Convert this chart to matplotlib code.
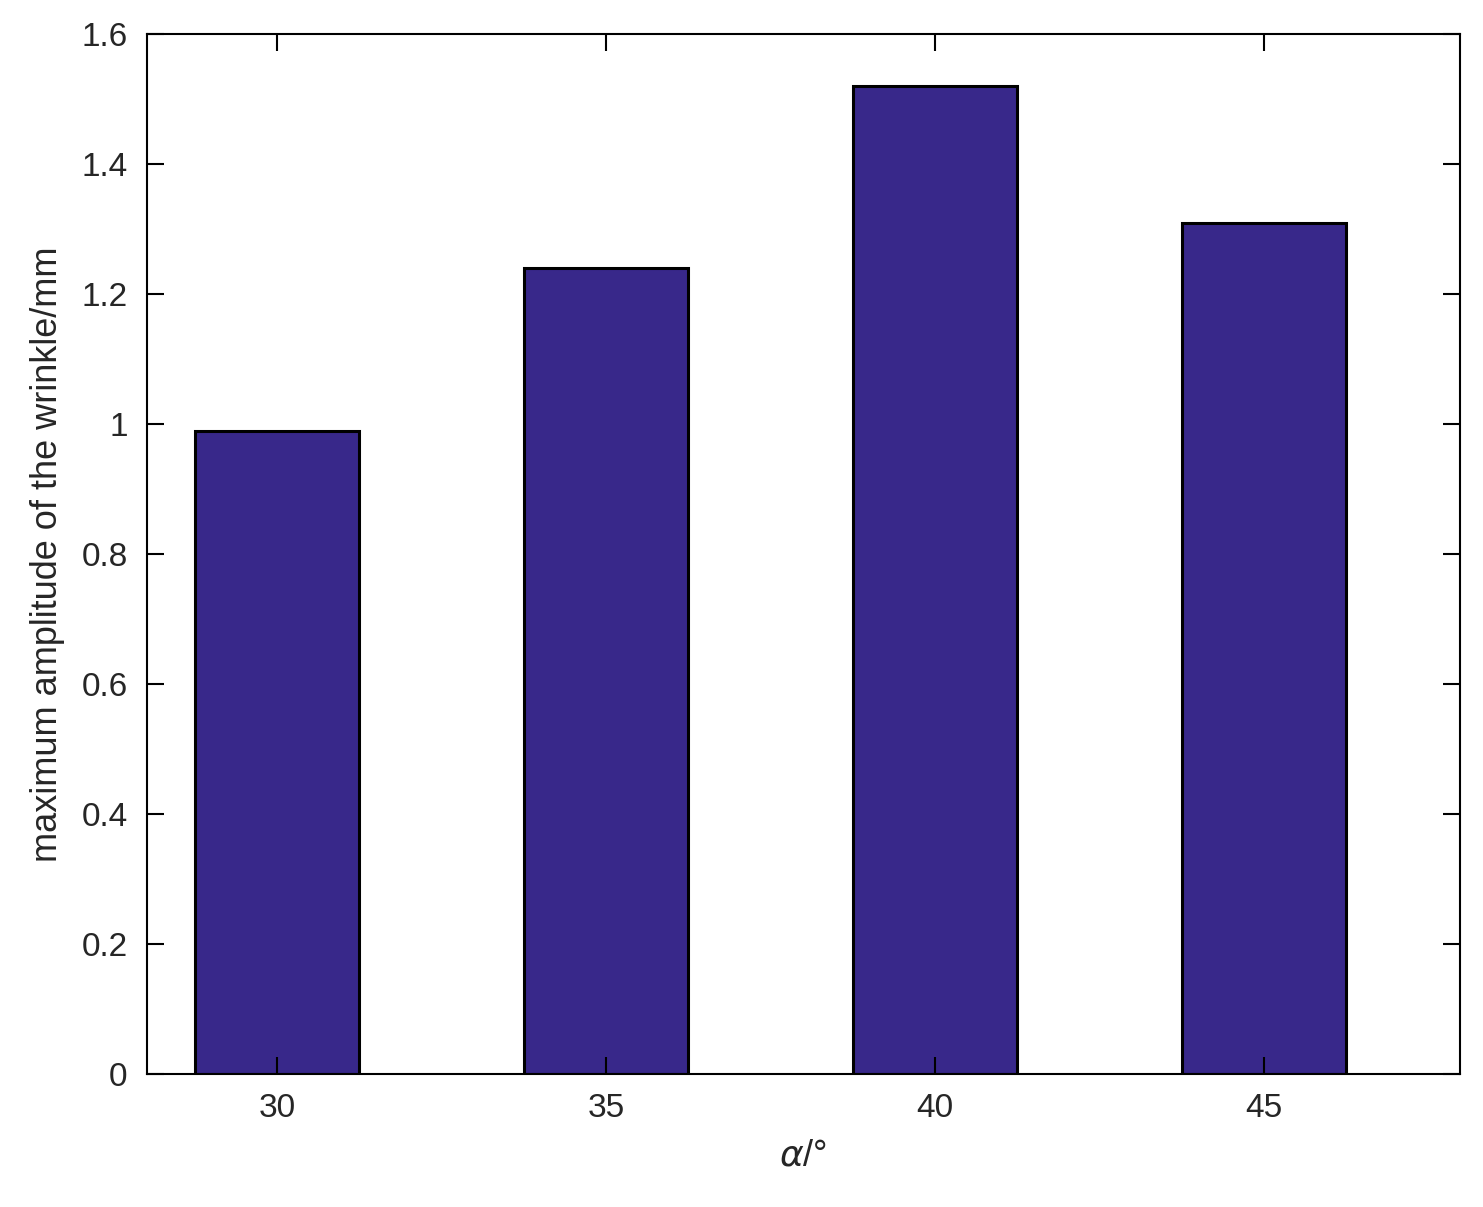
import matplotlib
matplotlib.use("Agg")
import matplotlib.pyplot as plt

categories = ["30", "35", "40", "45"]
values = [0.99, 1.24, 1.52, 1.31]

plt.rcParams['font.family'] = ['Liberation Sans', 'DejaVu Sans']
fig = plt.figure(figsize=(14.83, 12.07), dpi=100)
ax = fig.add_axes([147/1483, 1-1074/1207, (1460-147)/1483, (1074-34)/1207])
x = list(range(1, len(categories)+1))
ax.bar(x, values, width=0.5, color="#38288A", edgecolor="black", linewidth=2.2)
ax.set_xlim(0.605, 4.596)
ax.set_ylim(0, 1.6)
ax.set_xticks(x)
ax.set_xticklabels(categories)
ax.set_yticks([0, 0.2, 0.4, 0.6, 0.8, 1.0, 1.2, 1.4, 1.6])
ax.set_yticklabels(["0", "0.2", "0.4", "0.6", "0.8", "1", "1.2", "1.4", "1.6"])
ax.tick_params(direction="in", length=12, width=1.5, top=True, right=True,
               labelsize=24, labelcolor="#262626", pad=14)
for s in ax.spines.values():
    s.set_linewidth(1.5)
ax.set_xlabel(r"$\alpha$/°", fontsize=26, color="#262626", labelpad=10)
ax.set_ylabel("maximum amplitude of the wrinkle/mm", fontsize=26, color="#262626", labelpad=12)
fig.savefig("out.png", dpi=100)
